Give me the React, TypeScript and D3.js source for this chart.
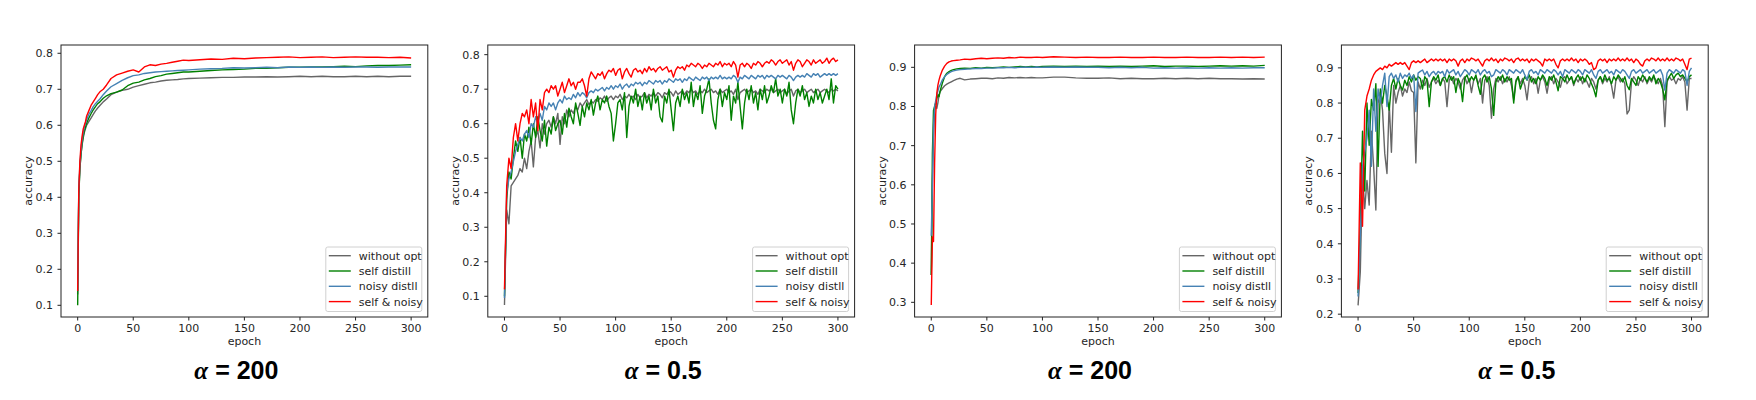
import React from 'react';
import * as d3 from 'd3';

// series order = legend order
const seriesNames = ['without opt', 'self distill', 'noisy distll', 'self & noisy'];
const seriesColors = ['#666666', '#008000', '#4682b4', '#ff0000'];

const xTicks = [0, 50, 100, 150, 200, 250, 300];
const xDomain = [-15, 315];

// alpha = 200 runs are smooth, sampled irregularly
const smoothEpochs = [0, 1, 2, 3, 4, 5, 6, 7, 8, 10, 12, 14, 16, 18, 20, 23, 26, 30, 35, 40, 45, 50, 55, 60, 65, 70, 75, 80, 85, 90, 95, 100,
  110, 120, 130, 140, 150, 160, 170, 180, 190, 200, 210, 220, 230, 240, 250, 260, 270, 280, 290, 300];
// alpha = 0.5 runs are noisy, every 2nd epoch
const noisyEpochs = d3.range(0, 301, 2);

// ---- panel 1 : alpha = 200 (first run)
const gray1 = [.13, .41, .48, .52, .545, .565, .58, .59, .60, .61, .62, .63, .64, .648, .655, .665, .673, .685, .692, .697, .70, .706, .71, .714, .718, .72, .723, .725, .726, .727, .729, .73,
  .731, .732, .733, .733, .734, .734, .735, .734, .735, .736, .735, .736, .735, .735, .736, .735, .736, .735, .736, .736];
const green1 = [.10, .40, .48, .52, .55, .57, .585, .595, .605, .62, .632, .643, .652, .66, .665, .675, .682, .688, .692, .698, .71, .717, .72, .726, .73, .735, .738, .742, .744, .746, .748, .748,
  .75, .752, .754, .755, .756, .758, .758, .76, .761, .761, .762, .762, .763, .764, .763, .765, .766, .766, .767, .768];
const blue1 = [.14, .42, .49, .53, .56, .58, .595, .605, .615, .63, .64, .652, .66, .667, .673, .685, .695, .707, .716, .725, .732, .738, .74, .744, .746, .748, .749, .75, .751, .752, .753, .754,
  .756, .757, .758, .76, .759, .76, .761, .76, .762, .761, .762, .761, .762, .761, .762, .762, .761, .762, .762, .762];
const red1 = [.14, .42, .50, .545, .57, .59, .60, .61, .625, .64, .655, .665, .675, .685, .693, .70, .712, .73, .74, .745, .75, .754, .748, .762, .768, .766, .77, .772, .775, .778, .781, .78,
  .782, .784, .783, .786, .785, .787, .788, .789, .79, .788, .789, .79, .788, .789, .79, .789, .789, .788, .789, .787];
const yTicks1 = [0.1, 0.2, 0.3, 0.4, 0.5, 0.6, 0.7, 0.8];
const yDomain1 = [0.0675, 0.823];

// ---- panel 2 : alpha = 0.5 (first run)
const gray2 = [
  .075, .35, .31, .42, .43, .44, .45, .47, .46, .50,
  .47, .52, .55, .475, .56, .58, .53, .60, .57, .60,
  .61, .59, .62, .60, .63, .54, .62, .60, .64, .62,
  .64, .63, .65, .64, .66, .65, .66, .67, .655, .665,
  .66, .67, .665, .675, .67, .68, .665, .675, .68, .67,
  .68, .675, .685, .67, .68, .675, .685, .675, .68, .67,
  .685, .675, .68, .69, .675, .685, .68, .69, .68, .69,
  .685, .675, .69, .685, .695, .69, .68, .695, .685, .69,
  .695, .685, .695, .69, .70, .69, .695, .685, .695, .69,
  .70, .69, .695, .70, .69, .695, .685, .70, .69, .695,
  .70, .69, .695, .685, .70, .67, .69, .695, .70, .69,
  .695, .70, .69, .695, .685, .70, .695, .69, .70, .695,
  .70, .69, .695, .70, .69, .695, .70, .685, .695, .70,
  .68, .695, .70, .69, .695, .70, .69, .695, .70, .69,
  .695, .70, .69, .695, .70, .695, .69, .70, .695, .70,
  .695];
const green2 = [
  .10, .38, .46, .44, .50, .55, .52, .56, .50, .57,
  .55, .59, .54, .60, .56, .62, .58, .55, .61, .535,
  .59, .57, .62, .58, .60, .61, .57, .63, .59, .645,
  .62, .60, .66, .63, .595, .65, .62, .66, .64, .67,
  .625, .66, .68, .64, .67, .66, .68, .65, .63, .55,
  .60, .66, .67, .64, .69, .56, .65, .68, .66, .70,
  .65, .68, .64, .69, .66, .68, .64, .70, .66, .68,
  .62, .605, .68, .66, .70, .64, .58, .66, .68, .65,
  .70, .67, .69, .66, .72, .65, .69, .67, .71, .63,
  .68, .70, .73, .66, .61, .585, .67, .70, .65, .69,
  .67, .71, .61, .68, .66, .72, .65, .585, .66, .70,
  .67, .71, .66, .69, .64, .70, .67, .71, .66, .68,
  .71, .69, .73, .68, .70, .66, .70, .68, .72, .64,
  .60, .66, .70, .68, .71, .67, .69, .65, .68, .66,
  .70, .67, .69, .66, .68, .70, .67, .73, .66, .71,
  .70];
const blue2 = [
  .095, .40, .44, .46, .49, .52, .54, .56, .55, .57,
  .58, .56, .60, .59, .62, .60, .63, .61, .65, .64,
  .66, .65, .66, .64, .66, .67, .66, .68, .67, .675,
  .67, .685, .675, .69, .68, .69, .685, .675, .69, .695,
  .69, .70, .695, .70, .705, .695, .705, .70, .71, .70,
  .71, .705, .715, .70, .71, .715, .705, .715, .71, .72,
  .715, .72, .71, .72, .715, .725, .72, .715, .725, .72,
  .725, .715, .725, .72, .73, .725, .72, .73, .725, .73,
  .72, .73, .725, .735, .73, .725, .735, .73, .725, .735,
  .73, .735, .725, .735, .73, .735, .73, .74, .73, .735,
  .73, .735, .73, .74, .735, .72, .735, .73, .74, .735,
  .73, .74, .735, .73, .74, .735, .74, .73, .74, .735,
  .74, .735, .73, .74, .735, .74, .735, .73, .74, .735,
  .725, .735, .74, .735, .74, .735, .745, .74, .735, .745,
  .74, .745, .735, .74, .745, .74, .745, .74, .745, .74,
  .745];
const red2 = [
  .12, .42, .50, .47, .56, .60, .55, .60, .63, .62,
  .64, .60, .67, .62, .66, .58, .67, .64, .69, .70,
  .69, .71, .70, .71, .68, .70, .72, .69, .71, .73,
  .71, .72, .70, .72, .72, .73, .71, .68, .73, .75,
  .74, .73, .745, .74, .75, .73, .745, .755, .75, .76,
  .74, .755, .76, .73, .75, .76, .745, .735, .755, .76,
  .75, .755, .745, .76, .75, .765, .755, .76, .75, .76,
  .765, .755, .76, .765, .75, .755, .735, .755, .765, .76,
  .765, .755, .77, .765, .775, .77, .765, .775, .77, .76,
  .77, .765, .775, .77, .765, .775, .77, .78, .765, .775,
  .77, .775, .765, .78, .77, .735, .77, .775, .765, .775,
  .77, .76, .775, .77, .78, .775, .765, .775, .78, .775,
  .785, .78, .77, .78, .785, .775, .78, .785, .77, .78,
  .755, .775, .785, .78, .765, .775, .785, .78, .77, .785,
  .775, .78, .785, .775, .78, .79, .775, .785, .79, .78,
  .785];
const yTicks2 = [0.1, 0.2, 0.3, 0.4, 0.5, 0.6, 0.7, 0.8];
const yDomain2 = [0.04, 0.828];

// ---- panel 3 : alpha = 200 (second run)
const gray3 = [.37, .60, .72, .79, .80, .795, .81, .83, .838, .846, .853, .857, .86, .863, .866, .87, .872, .868, .87, .871, .872, .872, .871, .873, .872, .874, .873, .874, .873, .874, .873, .873,
  .875, .875, .873, .872, .872, .873, .871, .872, .871, .871, .872, .871, .872, .871, .872, .871, .871, .870, .871, .870];
const green3 = [.37, .68, .79, .80, .81, .82, .83, .825, .84, .86, .876, .885, .889, .892, .894, .896, .897, .898, .897, .899, .898, .90, .899, .90, .901, .90, .901, .902, .901, .902, .901, .902,
  .903, .902, .903, .902, .903, .902, .903, .902, .903, .904, .902, .903, .903, .902, .903, .904, .903, .904, .903, .905];
const blue3 = [.47, .60, .75, .80, .815, .83, .84, .85, .855, .868, .876, .882, .886, .889, .891, .893, .894, .895, .896, .897, .897, .898, .898, .899, .899, .90, .899, .90, .90, .90, .901, .90,
  .901, .90, .901, .90, .90, .899, .90, .899, .90, .898, .899, .898, .899, .898, .899, .898, .899, .898, .899, .899];
const red3 = [.293, .467, .455, .655, .78, .834, .855, .868, .878, .893, .903, .91, .914, .916, .917, .918, .919, .921, .92, .922, .923, .922, .923, .924, .923, .925, .924, .926, .925, .925, .926, .925,
  .927, .926, .925, .926, .925, .925, .926, .925, .925, .926, .925, .925, .926, .925, .925, .926, .925, .926, .925, .926];
const yTicks3 = [0.3, 0.4, 0.5, 0.6, 0.7, 0.8, 0.9];
const yDomain3 = [0.2625, 0.957];

// ---- panel 4 : alpha = 0.5 (second run)
const gray4 = [
  .225, .32, .60, .50, .58, .51, .72, .62, .496, .80,
  .83, .78, .657, .60, .80, .66, .85, .80, .83, .85,
  .82, .84, .83, .86, .835, .83, .63, .86, .84, .865,
  .85, .87, .845, .86, .87, .855, .865, .85, .87, .86,
  .79, .865, .875, .855, .87, .86, .84, .865, .875, .855,
  .87, .83, .865, .875, .855, .87, .80, .865, .875, .85,
  .757, .84, .87, .86, .875, .855, .87, .86, .875, .85,
  .81, .865, .875, .855, .87, .85, .809, .865, .875, .855,
  .87, .828, .865, .875, .86, .828, .865, .875, .855, .87,
  .86, .845, .87, .875, .855, .865, .875, .85, .87, .86,
  .875, .855, .87, .86, .845, .87, .86, .84, .865, .875,
  .855, .87, .86, .875, .85, .814, .865, .875, .86, .87,
  .855, .769, .78, .86, .875, .865, .85, .87, .86, .875,
  .855, .87, .86, .875, .865, .855, .87, .85, .733, .86,
  .875, .865, .87, .855, .87, .865, .875, .86, .78, .87,
  .87];
const green4 = [
  .26, .45, .72, .55, .80, .68, .81, .78, .855, .62,
  .84, .80, .85, .82, .78, .85, .87, .84, .87, .85,
  .837, .865, .85, .875, .86, .88, .865, .875, .87, .84,
  .875, .865, .79, .86, .875, .865, .88, .85, .87, .875,
  .86, .88, .865, .875, .83, .87, .855, .804, .87, .88,
  .86, .875, .865, .88, .85, .825, .87, .88, .86, .875,
  .84, .765, .86, .875, .865, .88, .86, .875, .865, .87,
  .80, .86, .875, .84, .86, .875, .865, .88, .86, .87,
  .855, .875, .865, .88, .87, .85, .875, .865, .88, .86,
  .835, .875, .87, .86, .88, .865, .875, .855, .87, .88,
  .865, .875, .86, .88, .87, .855, .84, .818, .865, .875,
  .86, .88, .865, .87, .855, .875, .865, .88, .87, .86,
  .875, .85, .838, .87, .86, .85, .875, .865, .88, .87,
  .86, .875, .865, .88, .855, .87, .86, .84, .809, .865,
  .875, .885, .87, .88, .885, .875, .88, .87, .86, .875,
  .88];
const blue4 = [
  .25, .42, .62, .66, .70, .78, .62, .84, .72, .84,
  .80, .85, .885, .79, .875, .885, .87, .88, .86, .885,
  .87, .88, .875, .885, .87, .88, .776, .885, .89, .894,
  .88, .89, .875, .885, .89, .88, .89, .885, .89, .875,
  .895, .885, .89, .895, .88, .89, .875, .885, .895, .89,
  .88, .895, .89, .885, .895, .88, .89, .895, .885, .89,
  .875, .88, .895, .89, .885, .895, .89, .88, .895, .89,
  .885, .895, .89, .885, .895, .88, .866, .89, .895, .885,
  .89, .88, .895, .89, .885, .895, .89, .885, .895, .89,
  .88, .89, .875, .895, .89, .885, .895, .89, .885, .895,
  .89, .88, .895, .89, .885, .895, .88, .87, .89, .895,
  .885, .89, .895, .885, .89, .88, .895, .89, .885, .895,
  .89, .88, .87, .89, .895, .885, .89, .895, .885, .89,
  .895, .885, .89, .895, .885, .89, .895, .88, .837, .885,
  .895, .89, .885, .895, .89, .885, .895, .89, .85, .89,
  .90];
const red4 = [
  .27, .63, .45, .78, .82, .84, .865, .88, .89, .895,
  .90, .895, .905, .90, .91, .905, .91, .915, .91, .915,
  .91, .915, .905, .895, .915, .92, .915, .92, .915, .92,
  .925, .915, .92, .925, .92, .925, .92, .925, .92, .925,
  .915, .925, .92, .925, .92, .905, .92, .925, .915, .925,
  .92, .928, .925, .92, .925, .915, .905, .92, .925, .92,
  .928, .92, .925, .915, .925, .92, .928, .925, .92, .925,
  .915, .925, .928, .92, .925, .92, .925, .915, .925, .92,
  .925, .92, .915, .905, .925, .92, .925, .92, .925, .91,
  .90, .92, .925, .92, .925, .92, .928, .92, .925, .915,
  .925, .92, .925, .92, .91, .915, .895, .90, .92, .925,
  .92, .925, .915, .925, .92, .925, .92, .928, .92, .925,
  .92, .928, .92, .925, .915, .925, .92, .91, .905, .92,
  .925, .92, .928, .925, .92, .928, .92, .925, .92, .928,
  .92, .925, .92, .928, .925, .92, .925, .91, .895, .925,
  .928];
const yTicks4 = [0.2, 0.3, 0.4, 0.5, 0.6, 0.7, 0.8, 0.9];
const yDomain4 = [0.192, 0.965];

const panelTitles = ['200', '0.5', '200', '0.5'];

const panels = [
  { epochs: smoothEpochs, series: [gray1, green1, blue1, red1], yTicks: yTicks1, yDomain: yDomain1 },
  { epochs: noisyEpochs, series: [gray2, green2, blue2, red2], yTicks: yTicks2, yDomain: yDomain2 },
  { epochs: smoothEpochs, series: [gray3, green3, blue3, red3], yTicks: yTicks3, yDomain: yDomain3 },
  { epochs: noisyEpochs, series: [gray4, green4, blue4, red4], yTicks: yTicks4, yDomain: yDomain4 },
];

const W = 1756, H = 400;
const LEFT0 = 61, STEP = 426.8, PW = 366.8;
const TOP = 45, BOTTOM = 317;
const FONT = 'DejaVu Sans';
const INK = '#262626';

function Panel({ idx, epochs, series, yTicks, yDomain, title }: any) {
  const left = LEFT0 + idx * STEP;
  const right = left + PW;
  const cx = (left + right) / 2;
  const x = d3.scaleLinear().domain(xDomain).range([left, right]);
  const y = d3.scaleLinear().domain(yDomain).range([BOTTOM, TOP]);
  const line = d3.line<number>().x((_, i) => x(epochs[i])).y((d) => y(d));
  const fmt = d3.format('.1f');

  const lgLeft = right - 102, lgTop = BOTTOM - 70;

  return (
    <g>
      {series.map((s: number[], i: number) => (
        <path key={i} d={line(s) || ''} fill="none" stroke={seriesColors[i]} strokeWidth={1.4} strokeLinejoin="round" />
      ))}
      <rect x={left} y={TOP} width={PW} height={BOTTOM - TOP} fill="none" stroke="#222" strokeWidth={1} />

      {xTicks.map((t) => (
        <g key={t}>
          <line x1={x(t)} x2={x(t)} y1={BOTTOM} y2={BOTTOM + 3.5} stroke="#222" />
          <text x={x(t)} y={332} textAnchor="middle" fontSize={11} fontFamily={FONT} fill={INK}>{t}</text>
        </g>
      ))}
      {yTicks.map((t: number) => (
        <g key={t}>
          <line x1={left - 3.5} x2={left} y1={y(t)} y2={y(t)} stroke="#222" />
          <text x={left - 8} y={y(t)} dy="0.36em" textAnchor="end" fontSize={11} fontFamily={FONT} fill={INK}>{fmt(t)}</text>
        </g>
      ))}
      <text x={cx} y={345} textAnchor="middle" fontSize={11} fontFamily={FONT} fill={INK}>epoch</text>
      <text transform={`translate(${left - 33},${(TOP + BOTTOM) / 2}) rotate(-90)`} textAnchor="middle" dy="0.36em"
        fontSize={11} fontFamily={FONT} fill={INK}>accuracy</text>

      <rect x={lgLeft} y={lgTop} width={96} height={64.5} rx={2} fill="white" fillOpacity={0.8} stroke="#d0d0d0" strokeWidth={1} />
      {seriesNames.map((n, i) => {
        const ry = lgTop + 8.7 + i * 15.3;
        return (
          <g key={n}>
            <line x1={lgLeft + 3} x2={lgLeft + 25} y1={ry} y2={ry} stroke={seriesColors[i]} strokeWidth={1.4} />
            <text x={lgLeft + 33} y={ry} dy="0.36em" fontSize={11} fontFamily={FONT} fill={INK}>{n}</text>
          </g>
        );
      })}

      <text x={cx - 8} y={379} textAnchor="middle" fontSize={25} fontWeight="bold" fontFamily="Liberation Sans" fill="#000">
        <tspan fontStyle="italic" fontFamily="Liberation Serif">α</tspan> = {title}
      </text>
    </g>
  );
}

export default function App() {
  return (
    <svg width={W} height={H} style={{ position: 'absolute', left: 0, top: 0, background: '#fff' }}>
      <rect width={W} height={H} fill="#fff" />
      {panels.map((p, i) => (
        <Panel key={i} idx={i} {...p} title={panelTitles[i]} />
      ))}
    </svg>
  );
}
